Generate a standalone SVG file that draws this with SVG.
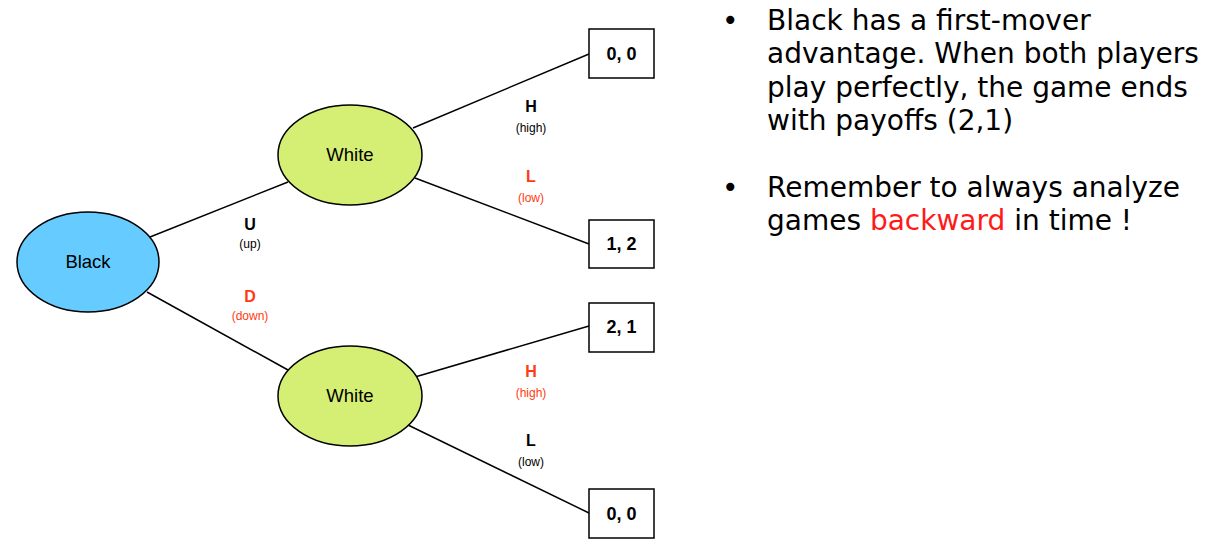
<svg xmlns="http://www.w3.org/2000/svg" width="1210" height="551" viewBox="0 0 1210 551">
  <style>
    .node { stroke: #000; stroke-width: 1.5; }
    .black { fill: #66ccff; }
    .white { fill: #d4ef73; }
    .box { fill: #fff; stroke: #000; stroke-width: 1.5; }
    .edge { stroke: #000; stroke-width: 1.5; fill: none; }
    .nlabel { font-family: "Liberation Sans", Arial, sans-serif; font-size: 18.5px; fill: #000; text-anchor: middle; }
    .payoff { font-family: "Liberation Sans", Arial, sans-serif; font-size: 18px; font-weight: bold; fill: #000; text-anchor: middle; }
    .move { font-family: "Liberation Sans", Arial, sans-serif; font-size: 16px; font-weight: bold; text-anchor: middle; }
    .sub { font-family: "Liberation Sans", Arial, sans-serif; font-size: 12px; text-anchor: middle; }
    .red { fill: #ff3b12; }
    .blk { fill: #000; }
    .notes { font-family: "DejaVu Sans", Verdana, sans-serif; font-size: 28px; fill: #000; }
  </style>
  <rect width="1210" height="551" fill="#fff"/>

  <g id="connectors">
    <line class="edge" x1="150" y1="237" x2="288" y2="182"/>
    <line class="edge" x1="147" y1="292" x2="288" y2="370"/>
    <line class="edge" x1="413" y1="128" x2="589" y2="54"/>
    <line class="edge" x1="415" y1="178" x2="589" y2="244"/>
    <line class="edge" x1="415" y1="377" x2="589" y2="326"/>
    <line class="edge" x1="408" y1="425" x2="589" y2="513"/>
    <text class="move blk" x="250" y="230">U</text>
    <text class="sub blk" x="250" y="248">(up)</text>
    <text class="move red" x="250" y="302">D</text>
    <text class="sub red" x="250" y="320">(down)</text>
    <text class="move blk" x="531" y="112">H</text>
    <text class="sub blk" x="531" y="132">(high)</text>
    <text class="move red" x="531" y="182">L</text>
    <text class="sub red" x="531" y="202">(low)</text>
    <text class="move red" x="531" y="377">H</text>
    <text class="sub red" x="531" y="397">(high)</text>
    <text class="move blk" x="531" y="446">L</text>
    <text class="sub blk" x="531" y="466">(low)</text>
  </g>

  <g id="black">
    <ellipse class="node black" cx="88" cy="262" rx="71" ry="50"/>
    <text class="nlabel" x="88" y="268">Black</text>
  </g>
  <g id="white-top">
    <ellipse class="node white" cx="350" cy="155" rx="72" ry="50"/>
    <text class="nlabel" x="350" y="161">White</text>
  </g>
  <g id="white-bottom">
    <ellipse class="node white" cx="350" cy="396" rx="72" ry="50"/>
    <text class="nlabel" x="350" y="402">White</text>
  </g>

  <g id="payoff-hh">
    <rect class="box" x="589" y="29" width="65" height="49"/>
    <text class="payoff" x="621.5" y="60">0, 0</text>
  </g>
  <g id="payoff-ul">
    <rect class="box" x="589" y="220" width="65" height="48"/>
    <text class="payoff" x="621.5" y="250">1, 2</text>
  </g>
  <g id="payoff-dh">
    <rect class="box" x="589" y="303" width="65" height="49"/>
    <text class="payoff" x="621.5" y="333">2, 1</text>
  </g>
  <g id="payoff-dl">
    <rect class="box" x="589" y="489" width="65" height="49"/>
    <text class="payoff" x="621.5" y="520">0, 0</text>
  </g>

  <g id="notes" class="notes">
    <text x="722" y="30">•</text>
    <text x="767" y="30">Black has a first-mover</text>
    <text x="767" y="63">advantage. When both players</text>
    <text x="767" y="97">play perfectly, the game ends</text>
    <text x="767" y="130">with payoffs (2,1)</text>
    <text x="722" y="197">•</text>
    <text x="767" y="197">Remember to always analyze</text>
    <text x="767" y="230">games <tspan fill="#ff1a1a">backward</tspan> in time !</text>
  </g>
</svg>
